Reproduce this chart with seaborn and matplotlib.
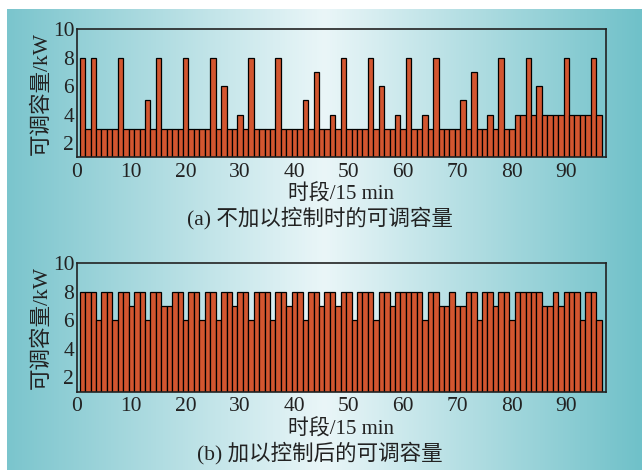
import numpy as np
import pandas as pd
import matplotlib
matplotlib.use("Agg")
import matplotlib.pyplot as plt
from matplotlib.colors import LinearSegmentedColormap
import seaborn as sns

# ---- data ----
periods = list(range(1, 97))
cap_uncontrolled = [8, 3, 8, 3, 3, 3, 3, 8, 3, 3, 3, 3, 5, 3, 8, 3, 3, 3, 3, 8,
                    3, 3, 3, 3, 8, 3, 6, 3, 3, 4, 3, 8, 3, 3, 3, 3, 8, 3, 3, 3,
                    3, 5, 3, 7, 3, 3, 4, 3, 8, 3, 3, 3, 3, 8, 3, 6, 3, 3, 4, 3,
                    8, 3, 3, 4, 3, 8, 3, 3, 3, 3, 5, 3, 7, 3, 3, 4, 3, 8, 3, 3,
                    4, 4, 8, 4, 6, 4, 4, 4, 4, 8, 4, 4, 4, 4, 8, 4]
cap_controlled = [8, 8, 8, 6, 8, 8, 6, 8, 8, 7, 8, 8, 6, 8, 8, 7, 7, 8, 8, 6,
                  8, 8, 6, 8, 8, 6, 8, 8, 7, 8, 8, 6, 8, 8, 8, 6, 8, 8, 7, 8,
                  8, 6, 8, 8, 7, 8, 8, 7, 8, 8, 6, 8, 8, 8, 6, 8, 8, 7, 8, 8,
                  8, 8, 8, 6, 8, 8, 7, 7, 8, 7, 7, 8, 8, 6, 8, 8, 7, 8, 8, 6,
                  8, 8, 8, 8, 8, 7, 7, 8, 7, 8, 8, 8, 6, 8, 8, 6]
xticks = [0, 10, 20, 30, 40, 50, 60, 70, 80, 90]
yticks = [2, 4, 6, 8, 10]
ylabel = "可调容量/kW"
xlabel = "时段/15 min"
captions = ["(a) 不加以控制时的可调容量", "(b) 加以控制后的可调容量"]

sns.set_style("white")
fam = ["Liberation Serif", "Noto Sans CJK SC", "DejaVu Sans"]
plt.rcParams["font.family"] = fam
plt.rcParams["axes.unicode_minus"] = False

W, H = 642, 470
fig = plt.figure(figsize=(W / 100, H / 100), dpi=100)
fig.patch.set_facecolor("white")

# gradient background
bg = fig.add_axes([7 / W, 0, 1 - 7 / W, 1 - 9 / H], zorder=-10)
cmap = LinearSegmentedColormap.from_list(
    "bgc", [(0.0, "#7bc5cd"), (0.5, "#eaf6f8"), (1.0, "#70c1c9")])
grad = np.linspace(0, 1, 512)[None, :]
bg.imshow(grad, aspect="auto", cmap=cmap, extent=[0, 1, 0, 1])
bg.set_axis_off()

bar_color = "#d35630"
left, right = 77 / W, 606 / W
panels = [
    (cap_uncontrolled, 29.3, 157.3),
    (cap_controlled, 263.3, 391.7),
]
for k, (vals, top_px, bot_px) in enumerate(panels):
    ax = fig.add_axes([left, 1 - bot_px / H, right - left, (bot_px - top_px) / H])
    ax.set_facecolor("none")
    df = pd.DataFrame({"t": periods, "v": vals})
    sns.barplot(data=df, x="t", y="v", native_scale=True, width=1.0,
                color=bar_color, saturation=1, edgecolor="black",
                linewidth=0.9, ax=ax)
    ax.set_xlim(0, 97.3)
    ax.set_ylim(1, 10)
    ax.set_xticks(xticks)
    ax.set_yticks(yticks)
    ax.tick_params(axis="both", length=0, labelsize=15.5, pad=2,
                   colors="#222222")
    ax.tick_params(axis="x", pad=4)
    for lab in ax.get_xticklabels() + ax.get_yticklabels():
        lab.set_family(fam)
    ax.set_xlabel(xlabel, fontsize=15, family=fam, labelpad=2, color="#222222")
    ax.set_ylabel(ylabel, fontsize=15.5, family=fam, labelpad=1, color="#222222")
    for s in ax.spines.values():
        s.set_visible(True)
        s.set_color("#222222")
        s.set_linewidth(1.2)
    cap_y = 218 if k == 0 else 453
    fig.text(0.498, 1 - cap_y / H, captions[k], ha="center", va="center",
             fontsize=15.5, family=fam, color="#222222")

fig.savefig("out.png", dpi=100)
